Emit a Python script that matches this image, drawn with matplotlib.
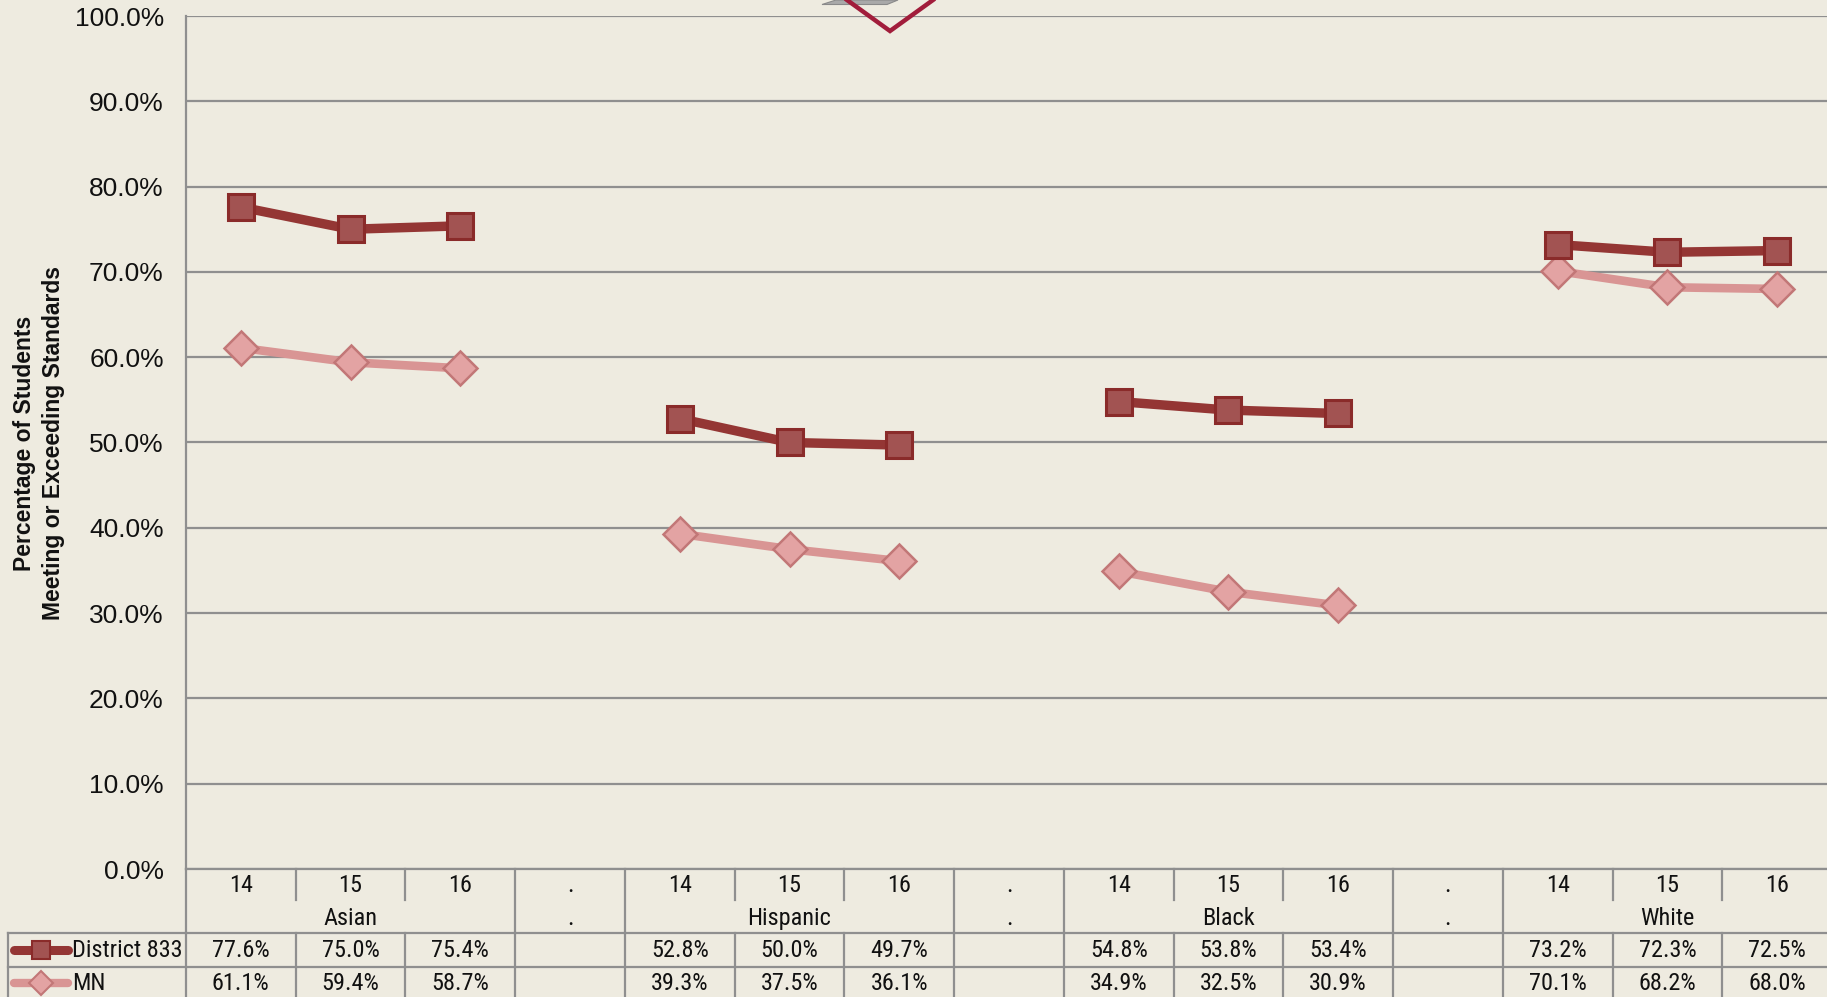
import matplotlib
matplotlib.use("Agg")
import matplotlib.pyplot as plt
import matplotlib.transforms as mtransforms
from matplotlib import font_manager
import numpy as np

# ---------------- data ----------------
slot_labels = ["14", "15", "16", ".", "14", "15", "16", ".", "14", "15", "16", ".", "14", "15", "16"]
group_labels = ["Asian", ".", "Hispanic", ".", "Black", ".", "White"]
district_833 = [77.6, 75.0, 75.4, None, 52.8, 50.0, 49.7, None, 54.8, 53.8, 53.4, None, 73.2, 72.3, 72.5]
mn = [61.1, 59.4, 58.7, None, 39.3, 37.5, 36.1, None, 34.9, 32.5, 30.9, None, 70.1, 68.2, 68.0]
series_names = ["District 833", "MN"]
y_ticks = [0, 10, 20, 30, 40, 50, 60, 70, 80, 90, 100]

# ---------------- style ----------------
W, H = 1827, 997
BG = "#EEEBE0"
GRID = "#8F8F8F"
D_LINE = "#943634"
D_FACE = "#A25352"
D_EDGE = "#8A2B2A"
M_LINE = "#D99594"
M_FACE = "#E3A3A3"
M_EDGE = "#C27777"

avail = {f.name for f in font_manager.fontManager.ttflist}
tick_font = "Liberation Sans" if "Liberation Sans" in avail else "DejaVu Sans"
narrow_font = None
for cand in ["Liberation Sans Narrow", "Roboto Condensed", "Open Sans Condensed"]:
    if cand in avail:
        narrow_font = cand
        break
if narrow_font is None:
    narrow_font = tick_font
    table_fs = 15
else:
    table_fs = 17.5

fig = plt.figure(figsize=(W / 100, H / 100), dpi=100, facecolor=BG)

left_px, right_px, top_px, bottom_px = 186, 1832, 16, 869
ax = fig.add_axes([left_px / W, (H - bottom_px) / H, (right_px - left_px) / W, (bottom_px - top_px) / H])
ax.set_facecolor(BG)

n = len(slot_labels)
x = np.arange(n)
d = np.array([np.nan if v is None else v for v in district_833], dtype=float)
m = np.array([np.nan if v is None else v for v in mn], dtype=float)

ax.plot(x, m, color=M_LINE, lw=6.2, marker="D", ms=17, mfc=M_FACE, mec=M_EDGE, mew=1.8,
        solid_capstyle="round", zorder=3)
ax.plot(x, d, color=D_LINE, lw=6.8, marker="s", ms=19, mfc=D_FACE, mec=D_EDGE, mew=2.2,
        solid_capstyle="round", zorder=4)

ax.set_xlim(-0.5, n - 0.5)
ax.set_ylim(0, 100)
ax.set_yticks(y_ticks)
ax.set_yticklabels([f"{v:.1f}%" for v in y_ticks], fontsize=19, family=tick_font, color="#111111")
ax.tick_params(axis="y", length=0, pad=16)
ax.set_xticks([])
ax.grid(axis="y", color=GRID, lw=1.6)
ax.set_axisbelow(True)
for s in ["top", "right", "bottom"]:
    ax.spines[s].set_visible(False)
ax.spines["left"].set_color(GRID)
ax.spines["left"].set_linewidth(1.6)

# y label
fig.text(39 / W, (H - 443) / H, "Percentage of Students\nMeeting or Exceeding Standards",
         rotation=90, ha="center", va="center", fontsize=16.5, family=tick_font,
         fontweight="bold", color="#111111", linespacing=1.3)

# ---------------- data table ----------------
def fy(px):
    return (H - px) / H

trans = mtransforms.blended_transform_factory(ax.transData, fig.transFigure)
figtr = fig.transFigure
lkw = dict(color=GRID, lw=1.6, clip_on=False)

y_cat_top, y_split, y_r1, y_r2, y_bot = 869, 900, 933, 966.5, 997
for i, lab in enumerate(slot_labels):
    ax.text(i, fy(885), lab, transform=trans, ha="center", va="center",
            fontsize=table_fs, family=narrow_font, color="#111111")
group_centers = [1, 3, 5, 7, 9, 11, 13]
for gc, lab in zip(group_centers, group_labels):
    ax.text(gc, fy(918), lab, transform=trans, ha="center", va="center",
            fontsize=table_fs, family=narrow_font, color="#111111")

for b in np.arange(0.5, n - 0.5, 1.0):
    full = b in (2.5, 3.5, 6.5, 7.5, 10.5, 11.5)
    ax.plot([b, b], [fy(y_cat_top), fy(y_r1 if full else y_split)], transform=trans, **lkw)
for b in np.arange(-0.5, n, 1.0):
    ax.plot([b, b], [fy(y_r1), fy(y_bot)], transform=trans, **lkw)
ax.plot([-0.5, -0.5], [fy(y_cat_top), fy(y_r1)], transform=trans, **lkw)
fig.add_artist(plt.Line2D([8 / W, 8 / W], [fy(y_r1), fy(y_bot)], transform=figtr, **lkw))
ax.plot([-0.5, n - 0.5], [fy(y_cat_top), fy(y_cat_top)], transform=trans, **lkw)
for yy in (y_r1, y_r2):
    fig.add_artist(plt.Line2D([8 / W, 1.0], [fy(yy), fy(yy)], transform=figtr, **lkw))

for vals, ypx in ((district_833, 950), (mn, 983)):
    for i, v in enumerate(vals):
        if v is None:
            continue
        ax.text(i, fy(ypx), f"{v:.1f}%", transform=trans, ha="center", va="center",
                fontsize=table_fs, family=narrow_font, color="#111111")

key_specs = [(950, D_LINE, "s", D_FACE, D_EDGE, 6.5, 13), (983, M_LINE, "D", M_FACE, M_EDGE, 6.0, 12)]
for (ypx, lc, mk, fc, ec, lw, ms), name in zip(key_specs, series_names):
    fig.add_artist(plt.Line2D([14 / W, 68 / W], [fy(ypx), fy(ypx)], transform=figtr,
                              color=lc, lw=lw, solid_capstyle="round"))
    fig.add_artist(plt.Line2D([41 / W], [fy(ypx)], transform=figtr, marker=mk, ms=ms,
                              mfc=fc, mec=ec, mew=1.5, lw=0))
    fig.text(72 / W, fy(ypx), name, ha="left", va="center", fontsize=table_fs,
             family=narrow_font, color="#111111")

# clipped callout remnant at the top
fig.add_artist(plt.Line2D([847 / W, 890 / W, 933 / W], [fy(0), fy(31), fy(0)], transform=figtr,
                          color="#A11D3B", lw=3.2, solid_joinstyle="miter"))
fig.add_artist(plt.Polygon([(822 / W, fy(4.5)), (887 / W, fy(4.5)), (898 / W, fy(0)), (836 / W, fy(0))],
                           closed=True, transform=figtr, facecolor="#A9A9A9", edgecolor="#8A8A8A", lw=0.8))

fig.savefig("out.png", dpi=100, facecolor=BG)
